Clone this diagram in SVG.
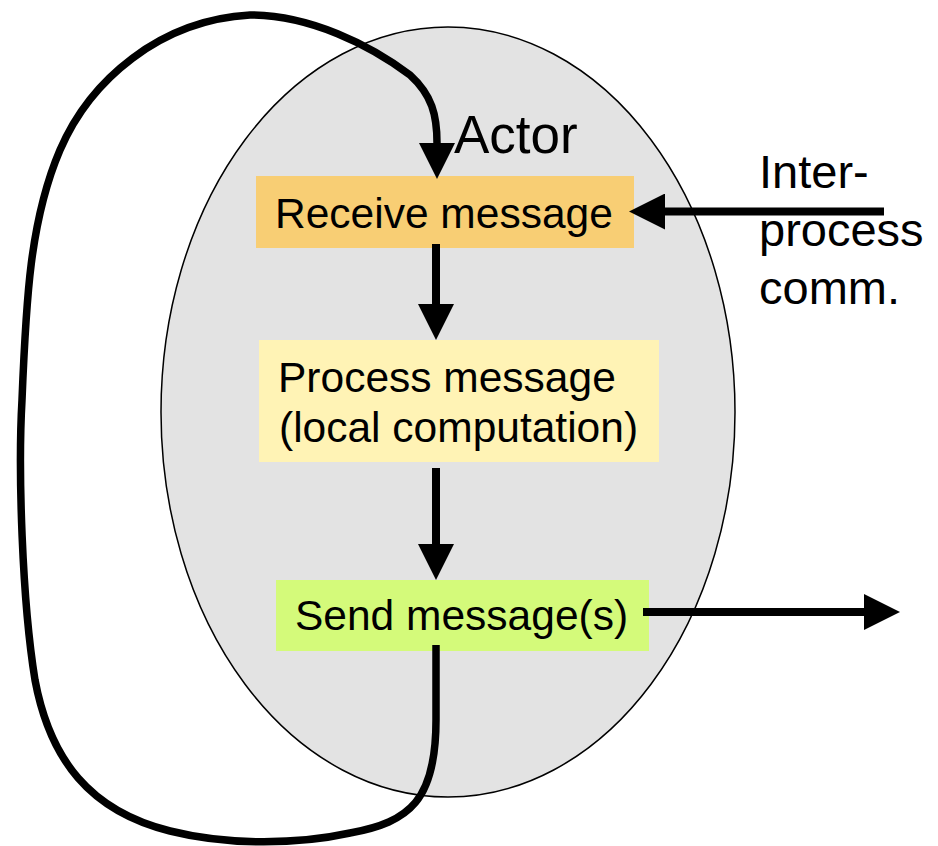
<svg xmlns="http://www.w3.org/2000/svg" width="938" height="846" viewBox="0 0 938 846">
  <defs>
    <style>
      .lbl { font-family: "Liberation Sans", Arial, sans-serif; fill: #000000; }
      .box-text { font-size: 42.5px; }
      .side-text { font-size: 47px; }
      .wire { fill: none; stroke: #000000; stroke-width: 8; marker-end: url(#head); }
      .loop { stroke-width: 7.5; stroke-linejoin: round; }
    </style>
    <marker id="head" markerUnits="userSpaceOnUse" markerWidth="36" markerHeight="36"
            viewBox="0 -18 36 36" refX="0" refY="0" orient="auto">
      <path d="M0,-18 L36,0 L0,18 Z" fill="#000000"/>
    </marker>
  </defs>

  <rect width="938" height="846" fill="#ffffff"/>

  <!-- actor boundary -->
  <g id="actor">
    <ellipse cx="448" cy="412" rx="287" ry="385" fill="#e3e3e3" stroke="#000000" stroke-width="1.5"/>
    <text class="lbl" x="454" y="153" font-size="53">Actor</text>
  </g>

  <g id="receive">
    <rect x="256" y="176" width="378" height="72" fill="#f8ce74"/>
    <text class="lbl box-text" x="275" y="228">Receive message</text>
  </g>

  <g id="process">
    <rect x="259" y="340" width="400" height="122" fill="#fff3b5"/>
    <text class="lbl box-text" x="278" y="392">Process message</text>
    <text class="lbl box-text" x="279" y="442">(local computation)</text>
  </g>

  <g id="send">
    <rect x="276" y="580" width="373" height="71" fill="#d4fa7a"/>
    <text class="lbl box-text" x="295" y="630">Send message(s)</text>
  </g>

  <g id="ipc-label">
    <text class="lbl side-text" x="759" y="188">Inter-</text>
    <text class="lbl side-text" x="759" y="246">process</text>
    <text class="lbl side-text" x="759" y="304">comm.</text>
  </g>

  <!-- connectors -->
  <g id="connectors">
    <line class="wire" x1="436" y1="244" x2="436" y2="304"/>
    <line class="wire" x1="436" y1="468" x2="436" y2="544"/>
    <line class="wire" x1="643" y1="612" x2="864" y2="612"/>
    <line class="wire" x1="884" y1="211.5" x2="665" y2="211.5"/>
    <path class="wire loop" d="M436,645 L436,720 C436,800 410,822 350,833 C300,844 230,846 170,831 C90,811 50,760 35,680 C22,600 18,470 22,400 C26,300 30,220 60,150 C90,80 160,20 250,15 C310,15 370,45 410,75 C432,95 437,115 437,143"/>
  </g>
</svg>
